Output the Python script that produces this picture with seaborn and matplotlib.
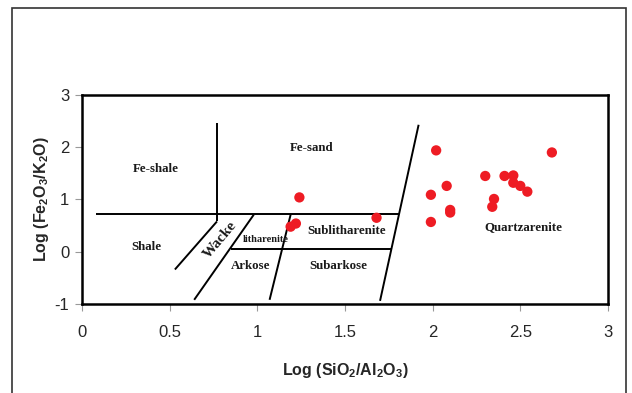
import numpy as np
import pandas as pd
import matplotlib
matplotlib.use("Agg")
import matplotlib.pyplot as plt
import seaborn as sns
from matplotlib.patches import Rectangle

# sample points, log(SiO2/Al2O3) vs log(Fe2O3/K2O)
log_si_al = [1.24, 1.22, 1.19, 1.68, 2.02, 2.68, 2.30, 2.41, 2.46, 2.46,
             2.50, 2.54, 2.08, 1.99, 2.35, 2.34, 2.10, 2.10, 1.99]
log_fe_k = [1.04, 0.54, 0.48, 0.65, 1.94, 1.90, 1.45, 1.45, 1.46, 1.32,
            1.26, 1.15, 1.26, 1.09, 1.01, 0.86, 0.80, 0.75, 0.57]

# classification boundaries (Herron 1988), as [x0, x1], [y0, y1]
boundary_x = [[0.77, 0.77], [0.08, 1.81], [0.77, 0.53], [0.98, 0.64],
              [1.19, 1.07], [0.85, 1.77], [1.92, 1.70]]
boundary_y = [[2.47, 0.58], [0.72, 0.72], [0.58, -0.34], [0.71, -0.92],
              [0.71, -0.92], [0.05, 0.05], [2.43, -0.94]]

field_names = ["Fe-shale", "Fe-sand", "Shale", "Wacke", "litharenite",
               "Sublitharenite", "Arkose", "Subarkose", "Quartzarenite"]
field_x = [0.42, 1.31, 0.37, 0.79, 1.05, 1.51, 0.96, 1.46, 2.52]
field_y = [1.58, 1.98, 0.10, 0.22, 0.24, 0.40, -0.27, -0.27, 0.48]

df = pd.DataFrame({"x": log_si_al, "y": log_fe_k})

sns.set_style("white")
plt.rcParams["font.family"] = ["Liberation Sans", "DejaVu Sans"]
plt.rcParams["mathtext.default"] = "regular"

fig = plt.figure(figsize=(6.32, 3.93), dpi=100)
ax = fig.add_axes([0.1297, 0.2265, 0.8323, 0.5318])

for bx, by in zip(boundary_x, boundary_y):
    ax.plot(bx, by, color="black", lw=1.4, solid_capstyle="butt")

sns.scatterplot(data=df, x="x", y="y", ax=ax, color="#ee1c24",
                s=55, edgecolor="none", zorder=3)

for name, fx, fy in zip(field_names, field_x, field_y):
    kw = dict(ha="center", va="center", fontweight="bold",
              family="Liberation Serif", color="#1a1a1a")
    if name == "Wacke":
        ax.text(fx, fy, name, fontsize=11, rotation=50, **kw)
    elif name == "litharenite":
        ax.text(fx, fy, name, fontsize=7.5, **kw)
    else:
        ax.text(fx, fy, name, fontsize=9.3, **kw)

ax.set_xlim(0, 3)
ax.set_ylim(-1, 3)
ax.set_xticks([0, 0.5, 1, 1.5, 2, 2.5, 3])
ax.set_xticklabels(["0", "0.5", "1", "1.5", "2", "2.5", "3"])
ax.set_yticks([-1, 0, 1, 2, 3])
ax.set_yticklabels(["-1", "0", "1", "2", "3"])
ax.tick_params(axis="both", labelsize=12, length=5, width=0.8,
               color="#999999", direction="out", bottom=True, left=True)
ax.tick_params(axis="x", pad=10)
ax.tick_params(axis="y", pad=4)
for sp in ax.spines.values():
    sp.set_color("black")
    sp.set_linewidth(1.8)

ax.set_xlabel("Log (SiO$_2$/Al$_2$O$_3$)", fontsize=11.5, fontweight="bold",
              labelpad=15)
ax.set_ylabel("Log (Fe$_2$O$_3$/K$_2$O)", fontsize=11.5, fontweight="bold",
              labelpad=3)

# outer frame around the chart
fig.patches.append(Rectangle((0.019, -0.05), 0.9715, 1.0296,
                             transform=fig.transFigure, fill=False,
                             edgecolor="#333333", lw=1.2))

fig.savefig("out.png", dpi=100)
